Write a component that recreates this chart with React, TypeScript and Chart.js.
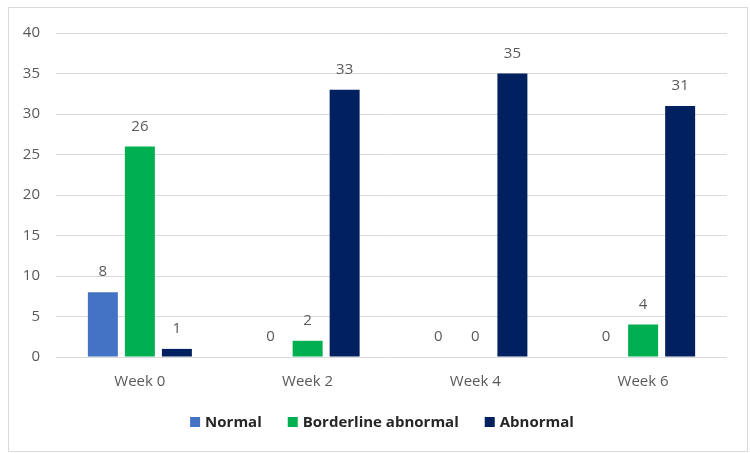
import React, { useEffect, useRef } from "react";
import { Chart, registerables } from "chart.js";

Chart.register(...registerables);

const categories = ["Week 0", "Week 2", "Week 4", "Week 6"];
const normalValues = [8, 0, 0, 0];
const borderlineValues = [26, 2, 0, 4];
const abnormalValues = [1, 33, 35, 31];
const seriesNames = ["Normal", "Borderline abnormal", "Abnormal"];
const seriesColors = ["#4472C4", "#00B050", "#002060"];
const yMin = 0;
const yMax = 40;
const yStep = 5;

const FONT = "'Open Sans', 'Noto Sans', sans-serif";

const valueLabelPlugin = {
  id: "valueLabels",
  afterDatasetsDraw(chart: any) {
    const ctx = chart.ctx;
    ctx.save();
    ctx.font = `15px ${FONT}`;
    ctx.fillStyle = "#595959";
    ctx.textAlign = "center";
    ctx.textBaseline = "middle";
    chart.data.datasets.forEach((ds: any, di: number) => {
      const meta = chart.getDatasetMeta(di);
      meta.data.forEach((bar: any, i: number) => {
        ctx.fillText(String(ds.data[i]), bar.x, bar.y - 20);
      });
    });
    ctx.restore();
  },
};

const legendPlugin = {
  id: "customLegend",
  afterDraw(chart: any) {
    const ctx = chart.ctx;
    ctx.save();
    ctx.font = `bold 15px ${FONT}`;
    ctx.textBaseline = "middle";
    const box = 10;
    const gapBoxText = 5;
    const gapItems = 26;
    const items = chart.data.datasets.map((ds: any) => ({
      label: ds.label,
      color: ds.backgroundColor,
      w: ctx.measureText(ds.label).width,
    }));
    const total = items.reduce(
      (s: number, it: any, i: number) => s + box + gapBoxText + it.w + (i > 0 ? gapItems : 0),
      0
    );
    let x = chart.width / 2 + 4 - total / 2;
    const y = 414;
    items.forEach((it: any) => {
      ctx.fillStyle = it.color;
      ctx.fillRect(x, y - box / 2, box, box);
      x += box + gapBoxText;
      ctx.fillStyle = "#262626";
      ctx.textAlign = "left";
      ctx.fillText(it.label, x, y + 1);
      x += it.w + gapItems;
    });
    ctx.restore();
  },
};

export default function App() {
  const canvasRef = useRef<HTMLCanvasElement | null>(null);

  useEffect(() => {
    if (!canvasRef.current) return;
    const values = [normalValues, borderlineValues, abnormalValues];
    const chart = new Chart(canvasRef.current, {
      type: "bar",
      data: {
        labels: categories,
        datasets: seriesNames.map((name, i) => ({
          label: name,
          data: values[i],
          backgroundColor: seriesColors[i],
          borderWidth: 0,
          categoryPercentage: 0.662,
          barPercentage: 0.81,
        })),
      },
      options: {
        animation: false,
        responsive: true,
        maintainAspectRatio: false,
        layout: { padding: { top: 21, right: 20, left: 0, bottom: 0 } },
        plugins: {
          legend: { display: false },
          tooltip: { enabled: false },
        },
        scales: {
          x: {
            grid: { display: false, drawTicks: false },
            border: { display: false },
            ticks: {
              color: "#595959",
              font: { family: FONT, size: 15 },
              padding: 16,
            },
            afterFit(scale: any) {
              scale.height = 94;
            },
          },
          y: {
            min: yMin,
            max: yMax,
            grid: { color: "#d9d9d9", drawTicks: false, lineWidth: 1 },
            border: { display: false },
            ticks: {
              stepSize: yStep,
              color: "#595959",
              font: { family: FONT, size: 15 },
              padding: 16,
            },
            afterFit(scale: any) {
              scale.width = 47;
            },
          },
        },
      },
      plugins: [valueLabelPlugin, legendPlugin],
    });
    return () => chart.destroy();
  }, []);

  return (
    <div
      style={{
        position: "absolute",
        left: 8,
        top: 7,
        width: 740,
        height: 445,
        boxSizing: "border-box",
        border: "1px solid #d9d9d9",
        background: "#fff",
      }}
    >
      <canvas ref={canvasRef} />
    </div>
  );
}
